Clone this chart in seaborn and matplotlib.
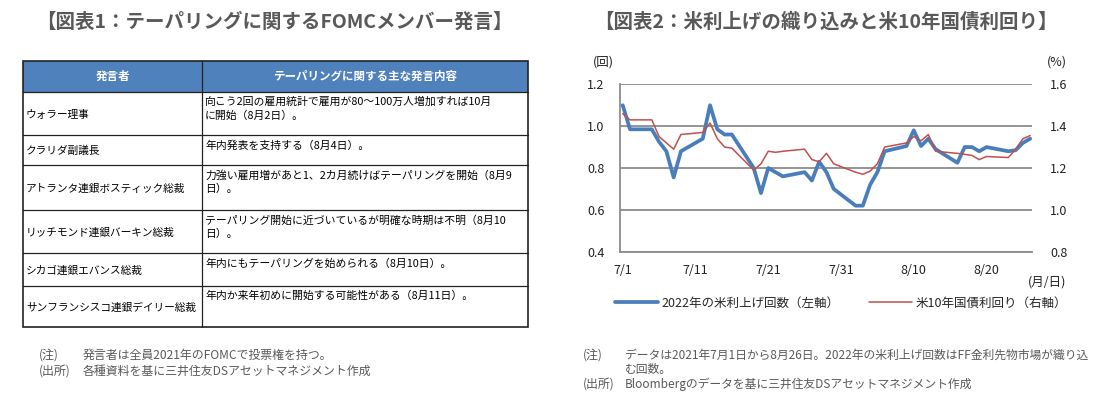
import pandas as pd
import seaborn as sns
import matplotlib.pyplot as plt
from matplotlib.patches import Rectangle
from matplotlib.lines import Line2D

sns.set_style("white")
plt.rcParams['font.family'] = ['Noto Sans CJK JP', 'DejaVu Sans']

# ---- data ----
title_left = "【図表1：テーパリングに関するFOMCメンバー発言】"
title_right = "【図表2：米利上げの織り込みと米10年国債利回り】"

table_header = ["発言者", "テーパリングに関する主な発言内容"]
speakers = ["ウォラー理事", "クラリダ副議長", "アトランタ連銀ボスティック総裁",
            "リッチモンド連銀バーキン総裁", "シカゴ連銀エバンス総裁",
            "サンフランシスコ連銀デイリー総裁"]
remarks = ["向こう2回の雇用統計で雇用が80～100万人増加すれば10月\nに開始（8月2日）。",
           "年内発表を支持する（8月4日）。",
           "力強い雇用増があと1、2カ月続けばテーパリングを開始（8月9\n日）。",
           "テーパリング開始に近づいているが明確な時期は不明（8月10\n日）。",
           "年内にもテーパリングを始められる（8月10日）。",
           "年内か来年初めに開始する可能性がある（8月11日）。"]

days = ["7/1", "7/2", "7/5", "7/6", "7/7", "7/8", "7/9",
        "7/12", "7/13", "7/14", "7/15", "7/16",
        "7/19", "7/20", "7/21", "7/22", "7/23",
        "7/26", "7/27", "7/28", "7/29", "7/30",
        "8/2", "8/3", "8/4", "8/5", "8/6",
        "8/9", "8/10", "8/11", "8/12", "8/13",
        "8/16", "8/17", "8/18", "8/19", "8/20",
        "8/23", "8/24", "8/25", "8/26"]
hikes = [1.10, 0.985, 0.985, 0.925, 0.88, 0.755, 0.88,
         0.94, 1.10, 0.985, 0.96, 0.96,
         0.80, 0.68, 0.80, 0.78, 0.76,
         0.78, 0.74, 0.83, 0.78, 0.70,
         0.62, 0.62, 0.72, 0.78, 0.88,
         0.905, 0.98, 0.905, 0.94, 0.89,
         0.825, 0.90, 0.90, 0.88, 0.90,
         0.88, 0.885, 0.92, 0.94]
yields = [1.46, 1.43, 1.43, 1.35, 1.32, 1.29, 1.36,
          1.37, 1.415, 1.34, 1.30, 1.295,
          1.19, 1.22, 1.28, 1.275, 1.28,
          1.29, 1.24, 1.23, 1.27, 1.22,
          1.18, 1.17, 1.185, 1.22, 1.30,
          1.32, 1.35, 1.33, 1.36, 1.28,
          1.27, 1.265, 1.26, 1.24, 1.255,
          1.25, 1.29, 1.34, 1.355]
x_ticks = ["7/1", "7/11", "7/21", "7/31", "8/10", "8/20"]
left_ticks = [0.4, 0.6, 0.8, 1.0, 1.2]
right_ticks = [0.8, 1.0, 1.2, 1.4, 1.6]
legend_labels = ["2022年の米利上げ回数（左軸）", "米10年国債利回り（右軸）"]

notes_left = [("(注)", "発言者は全員2021年のFOMCで投票権を持つ。"),
              ("(出所)", "各種資料を基に三井住友DSアセットマネジメント作成")]
notes_right = [("(注)", "データは2021年7月1日から8月26日。2022年の米利上げ回数はFF金利先物市場が織り込"),
               ("", "む回数。"),
               ("(出所)", "Bloombergのデータを基に三井住友DSアセットマネジメント作成")]

# ---- layout / style ----
W, H = 1111, 397
GRAY_TXT = "#595959"
BLUE = "#4A7EBB"
RED = "#C0504D"
GRID = "#8C8C8C"

fig = plt.figure(figsize=(W / 100, H / 100), dpi=100)
fig.patch.set_facecolor("white")

# full-figure pixel axes for the table and text
bg = fig.add_axes([0, 0, 1, 1])
bg.set_xlim(0, W)
bg.set_ylim(H, 0)
bg.axis("off")

bg.text(274, 22, title_left, ha="center", va="center", fontsize=14,
        fontweight="bold", color=GRAY_TXT)
bg.text(826, 22, title_right, ha="center", va="center", fontsize=14,
        fontweight="bold", color=GRAY_TXT)

# table
col_x = [23, 202, 528]
row_h = [31, 43, 29.6, 45.8, 42.8, 32.8, 41]
top = 61
bg.add_patch(Rectangle((col_x[0], top), col_x[2] - col_x[0], row_h[0],
                       facecolor="#4F81BD", edgecolor="none"))
for j, h in enumerate(table_header):
    bg.text((col_x[j] + col_x[j + 1]) / 2, top + row_h[0] / 2, h, ha="center",
            va="center", fontsize=8.3, fontweight="bold", color="white")
y = top + row_h[0]
for i, (sp, rm) in enumerate(zip(speakers, remarks)):
    h = row_h[i + 1]
    bg.plot([col_x[0], col_x[2]], [y, y], color="#222222", lw=0.9)
    bg.text(col_x[0] + 3, y + h / 2 + 1, sp, ha="left", va="center",
            fontsize=7.7, color="black")
    bg.text(col_x[1] + 3, y + 5, rm, ha="left", va="top", fontsize=7.8,
            color="black", linespacing=1.35)
    y += h
bg.plot([col_x[1], col_x[1]], [top, y], color="#222222", lw=0.9)
bg.add_patch(Rectangle((col_x[0], top), col_x[2] - col_x[0], y - top,
                       facecolor="none", edgecolor="#222222", lw=1.2))

for k, (a, b) in enumerate(notes_left):
    yy = 355 + k * 16
    bg.text(39, yy, a, ha="left", va="center", fontsize=8.6, color=GRAY_TXT)
    bg.text(83, yy, b, ha="left", va="center", fontsize=8.6, color=GRAY_TXT)

for k, (a, b) in enumerate(notes_right):
    yy = 355 + k * 14.5
    bg.text(583, yy, a, ha="left", va="center", fontsize=8.6, color=GRAY_TXT)
    bg.text(625, yy, b, ha="left", va="center", fontsize=8.5, color=GRAY_TXT)

# ---- line chart ----
df = pd.DataFrame({"date": pd.to_datetime(["2021/" + d for d in days]),
                   "hikes": hikes, "yield": yields})

x0, x1, y0, y1 = 620, 1032, 84.3, 251.7
ax = fig.add_axes([x0 / W, 1 - y1 / H, (x1 - x0) / W, (y1 - y0) / H])
sns.lineplot(data=df, x="date", y="hikes", ax=ax, color=BLUE, lw=2.7)
ax2 = ax.twinx()
sns.lineplot(data=df, x="date", y="yield", ax=ax2, color=RED, lw=1.1)

ax.set_xlim(df["date"].iloc[0] - pd.Timedelta(hours=9),
            df["date"].iloc[-1] + pd.Timedelta(hours=6))
ax.set_ylim(0.4, 1.2)
ax2.set_ylim(0.8, 1.6)
ax.set_yticks(left_ticks)
ax.set_yticklabels([f"{v:.1f}" for v in left_ticks])
ax2.set_yticks(right_ticks)
ax2.set_yticklabels([f"{v:.1f}" for v in right_ticks])
ax.set_xticks(pd.to_datetime(["2021/" + t for t in x_ticks]))
ax.set_xticklabels(x_ticks)
ax.set_xlabel("")
ax.set_ylabel("")
ax2.set_ylabel("")

ax.grid(axis="y", color=GRID, lw=1.3)
ax.grid(axis="x", visible=False)
for s in ["top", "right"]:
    ax.spines[s].set_visible(False)
for s in ["left", "bottom"]:
    ax.spines[s].set_color(GRID)
    ax.spines[s].set_linewidth(1.3)
for s in ax2.spines.values():
    s.set_visible(False)
ax.tick_params(axis="y", length=0, pad=11, labelsize=9, labelcolor="#222222")
ax.tick_params(axis="x", direction="in", length=4, width=1.2, color=GRID,
               pad=9, labelsize=9, labelcolor="#222222")
ax2.tick_params(axis="y", length=0, pad=13, labelsize=9, labelcolor="#222222")

bg.text(603, 62.5, "(回)", ha="center", va="center", fontsize=9, color="#222222")
bg.text(1057, 62.5, "(%)", ha="center", va="center", fontsize=9, color="#222222")
bg.text(1047, 282, "(月/日)", ha="center", va="center", fontsize=9, color="#222222")

handles = [Line2D([], [], color=BLUE, lw=2.7), Line2D([], [], color=RED, lw=1.1)]
fig.legend(handles, legend_labels, loc="center",
           bbox_to_anchor=(841 / W, 1 - 303 / H), ncol=2, frameon=False,
           fontsize=9, handlelength=3.4, handletextpad=0.3, columnspacing=2.4)

fig.savefig("out.png", dpi=100, facecolor="white")
